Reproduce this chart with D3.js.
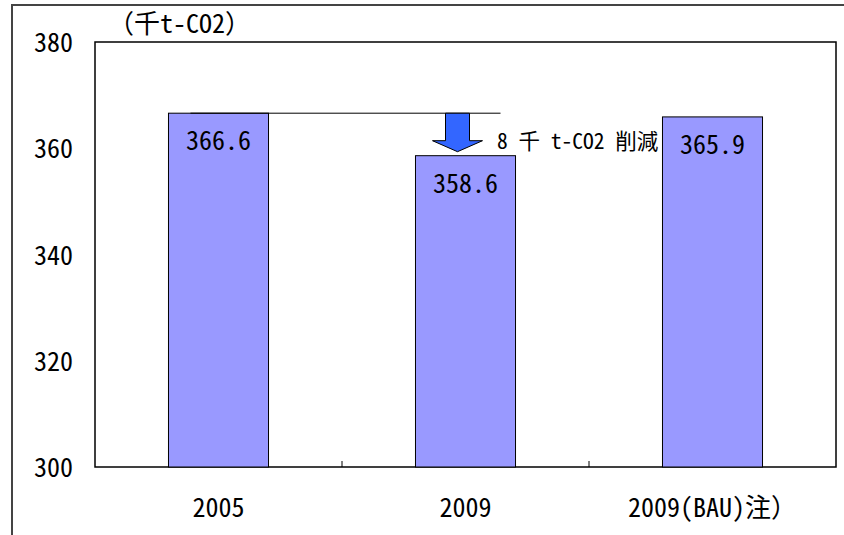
<!DOCTYPE html>
<html><head><meta charset="utf-8">
<script src="https://cdn.jsdelivr.net/npm/d3@7"></script>
<style>body{margin:0;background:#fff}svg{display:block}</style>
</head><body>
<svg id="c" width="844" height="535"></svg>
<script>
const categories = ["2005", "2009", "2009(BAU)注）"];
const values = [366.6, 358.6, 365.9];
const yTicks = [300, 320, 340, 360, 380];
const unitLabel = "（千t-CO2）";
const reductionLabel = "8 千 t-CO2 削減";

const svg = d3.select("#c");
const font = "'Noto Sans Mono CJK JP', 'Noto Sans CJK JP', monospace";
const m = {l: 95, r: 836, t: 42, b: 467};

// outer frame
svg.append("path").attr("d", "M12,535 V5 H844").attr("fill", "none")
  .attr("stroke", "#444").attr("stroke-width", 2);

const x = d3.scaleBand().domain(categories).range([m.l, m.r]).paddingInner(0.595).paddingOuter(0.2975);
const y = d3.scaleLinear().domain([300, 380]).range([m.b, m.t]);

// plot area
svg.append("rect").attr("x", m.l).attr("y", m.t).attr("width", m.r - m.l).attr("height", m.b - m.t)
  .attr("fill", "none").attr("stroke", "#000").attr("stroke-width", 1.5);

// x axis tick marks (between categories, inside)
const step = (m.r - m.l) / categories.length;
svg.selectAll(".xt").data(d3.range(1, categories.length)).join("line")
  .attr("x1", d => m.l + d * step).attr("x2", d => m.l + d * step)
  .attr("y1", m.b).attr("y2", m.b - 6).attr("stroke", "#000").attr("stroke-width", 1);

// bars
svg.selectAll(".bar").data(values).join("rect")
  .attr("x", (d, i) => x(categories[i])).attr("width", x.bandwidth())
  .attr("y", d => y(d)).attr("height", d => y(300) - y(d))
  .attr("fill", "#9999FF").attr("stroke", "#000").attr("stroke-width", 1);

// value labels
svg.selectAll(".vl").data(values).join("text")
  .attr("x", (d, i) => x(categories[i]) + x.bandwidth() / 2)
  .attr("y", d => y(d) + 37)
  .attr("text-anchor", "middle").attr("font-family", font).attr("font-size", 26)
  .text(d => d.toFixed(1));

// y tick labels
svg.selectAll(".yl").data(yTicks).join("text")
  .attr("x", 73).attr("y", d => y(d) + 10)
  .attr("text-anchor", "end").attr("font-family", font).attr("font-size", 26)
  .text(d => d);

// x labels
svg.selectAll(".xl").data(categories).join("text")
  .attr("x", d => x(d) + x.bandwidth() / 2).attr("y", 517)
  .attr("text-anchor", "middle").attr("font-family", font).attr("font-size", 26)
  .text(d => d);

// unit label
svg.append("text").attr("x", 108).attr("y", 33).attr("font-family", font).attr("font-size", 26)
  .text(unitLabel);

// reference line from 2005 bar top
const y0 = y(values[0]);
svg.append("line").attr("x1", x(categories[0]) + 22).attr("x2", x(categories[1]) + x.bandwidth() - 15)
  .attr("y1", y0).attr("y2", y0).attr("stroke", "#000").attr("stroke-width", 1);

// arrow
const ac = x(categories[1]) + x.bandwidth() / 2 - 8;
const tip = y(values[1]) - 4;
const headTop = tip - 11;
const aw = 12, hw = 25;
svg.append("path")
  .attr("d", `M${ac - aw},${y0} H${ac + aw} V${headTop} H${ac + hw} L${ac},${tip} L${ac - hw},${headTop} H${ac - aw} Z`)
  .attr("fill", "#3366FF").attr("stroke", "#000").attr("stroke-width", 1);

svg.append("text").attr("x", 497).attr("y", 149).attr("font-family", font).attr("font-size", 21.5)
  .text(reductionLabel);
</script>
</body></html>
